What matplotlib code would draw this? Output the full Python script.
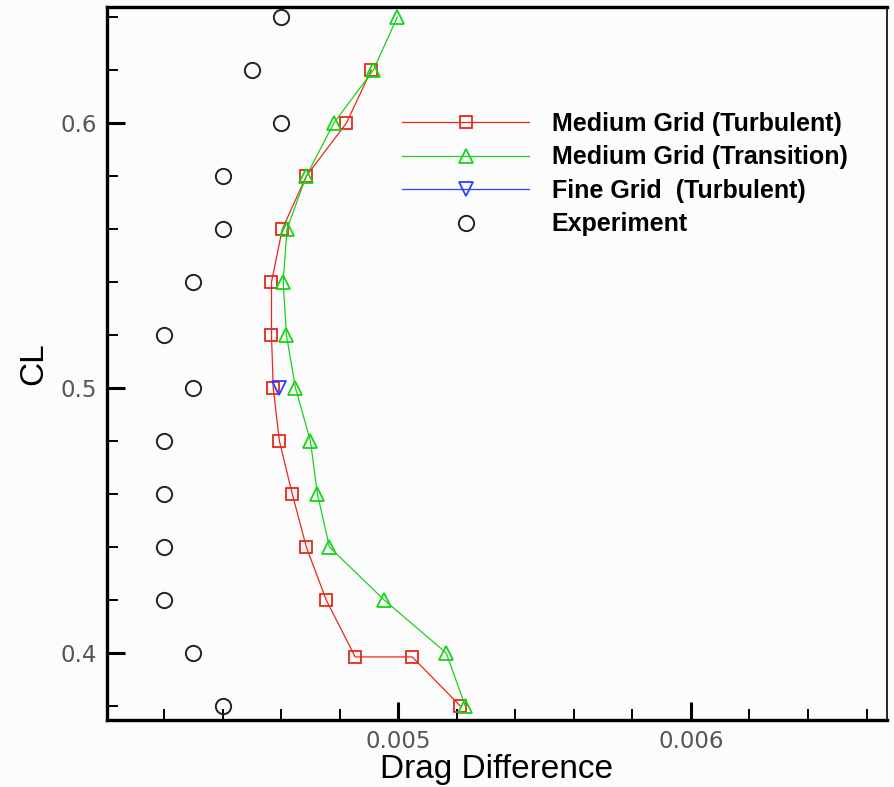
import numpy as np
import matplotlib
matplotlib.use('Agg')
import matplotlib.pyplot as plt
from matplotlib.ticker import MultipleLocator

# CL stations
cl_med_turb = [0.62, 0.60, 0.58, 0.56, 0.54, 0.52, 0.50, 0.48, 0.46, 0.44, 0.42, 0.3985, 0.3985, 0.38]
cd_med_turb = [0.004908, 0.004823, 0.004686, 0.004604, 0.004567, 0.004567, 0.004573,
               0.004594, 0.004638, 0.004686, 0.004754, 0.004853, 0.005048, 0.005212]

cl_med_trans = [0.64, 0.62, 0.60, 0.58, 0.56, 0.54, 0.52, 0.50, 0.48, 0.46, 0.44, 0.42, 0.40, 0.38]
cd_med_trans = [0.004997, 0.004915, 0.004780, 0.004686, 0.00462, 0.004607, 0.004618,
                0.004649, 0.0047, 0.004724, 0.004765, 0.004952, 0.005164, 0.005229]

cl_fine_turb = [0.50]
cd_fine_turb = [0.004594]

cl_exp = [0.64, 0.62, 0.60, 0.58, 0.56, 0.54, 0.52, 0.50, 0.48, 0.46, 0.44, 0.42, 0.40, 0.38]
cd_exp = [0.0046, 0.0045, 0.0046, 0.0044, 0.0044, 0.0043, 0.0042,
          0.0043, 0.0042, 0.0042, 0.0042, 0.0042, 0.0043, 0.0044]

x_ticks = [0.005, 0.006]
x_tick_labels = ["0.005", "0.006"]
y_ticks = [0.4, 0.5, 0.6]
y_tick_labels = ["0.4", "0.5", "0.6"]

RED = "#e8281c"
GREEN = "#18d418"
BLUE = "#2840ff"

fig = plt.figure(figsize=(8.94, 7.87), dpi=100, facecolor="#fcfcfc")
ax = fig.add_axes([107 / 894, 67 / 787, 780 / 894, 713 / 787], facecolor="#fcfcfc")

ax.plot(cd_med_turb, cl_med_turb, color=RED, lw=0.9, marker="s", ms=9,
        mfc="none", mec=RED, mew=1.3, label="Medium Grid (Turbulent)")
ax.plot(cd_med_trans, cl_med_trans, color=GREEN, lw=0.9, marker="^", ms=10,
        mfc="none", mec=GREEN, mew=1.3, label="Medium Grid (Transition)")
ax.plot(cd_fine_turb, cl_fine_turb, color=BLUE, lw=0.9, marker="v", ms=10,
        mfc="none", mec=BLUE, mew=1.3, label="Fine Grid  (Turbulent)")
ax.plot(cd_exp, cl_exp, ls="none", marker="o", ms=11, mfc="none",
        mec="#222222", mew=1.4, label="Experiment")

ax.set_xlim(0.004005, 0.00667)
ax.set_ylim(0.3747, 0.6438)

ax.set_xticks(x_ticks)
ax.set_xticklabels(x_tick_labels)
ax.set_yticks(y_ticks)
ax.set_yticklabels(y_tick_labels)
ax.xaxis.set_minor_locator(MultipleLocator(0.0002))
ax.yaxis.set_minor_locator(MultipleLocator(0.02))

ax.tick_params(which="major", direction="in", length=13, width=2.2,
               labelsize=16.5, labelcolor="#555555", pad=7,
               top=False, right=False)
ax.tick_params(which="minor", direction="in", length=8, width=1.4,
               top=False, right=False)

for side in ["left", "bottom", "top"]:
    ax.spines[side].set_linewidth(2.4)
ax.spines["right"].set_linewidth(1.2)

ax.set_xlabel("Drag Difference", fontsize=24, family="Liberation Sans", labelpad=1)
ax.set_ylabel("CL", fontsize=24, family="Liberation Sans", labelpad=8)

leg = ax.legend(loc="upper left", bbox_to_anchor=(0.378, 0.853), frameon=False,
                borderpad=0, borderaxespad=0, handlelength=5.1, handletextpad=0.9,
                labelspacing=0.38, prop={"family": "Liberation Sans", "weight": "bold", "size": 18})

fig.savefig("out.png", dpi=100, facecolor=fig.get_facecolor())
